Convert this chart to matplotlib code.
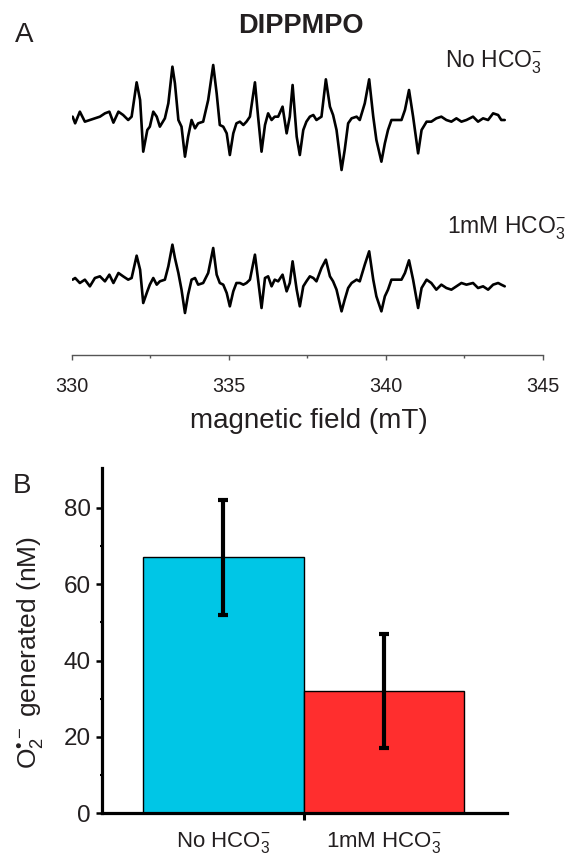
import numpy as np
import matplotlib
matplotlib.use('Agg')
import matplotlib.pyplot as plt

plt.rcParams['font.family'] = ['Liberation Sans', 'DejaVu Sans']
plt.rcParams['mathtext.fontset'] = 'custom'
plt.rcParams['mathtext.rm'] = 'Liberation Sans'
plt.rcParams['mathtext.it'] = 'Liberation Sans'
plt.rcParams['mathtext.bf'] = 'Liberation Sans:bold'

# Panel A - ESR spectra (intensity in a.u.)
campo_mT = [
    330.02, 330.10, 330.25, 330.41, 330.57, 330.73, 330.89, 331.05, 331.19, 331.32,
    331.48, 331.63, 331.79, 331.90, 332.06, 332.17, 332.27, 332.40, 332.48, 332.59,
    332.70, 332.80, 332.96, 333.07, 333.20, 333.28, 333.39, 333.49, 333.60, 333.70,
    333.81, 333.92, 334.02, 334.18, 334.34, 334.50, 334.61, 334.71, 334.82, 334.93,
    335.03, 335.14, 335.24, 335.35, 335.46, 335.56, 335.67, 335.83, 335.93, 336.04,
    336.15, 336.25, 336.36, 336.46, 336.57, 336.71, 336.84, 336.94, 337.03, 337.16,
    337.26, 337.37, 337.47, 337.58, 337.69, 337.79, 337.95, 338.09, 338.22, 338.32,
    338.43, 338.59, 338.69, 338.80, 338.91, 339.07, 339.17, 339.33, 339.47, 339.60,
    339.70, 339.86, 339.97, 340.07, 340.18, 340.34, 340.50, 340.61, 340.74, 340.87,
    341.03, 341.14, 341.30, 341.45, 341.61, 341.77, 341.93, 342.09, 342.25, 342.41,
    342.57, 342.78, 342.94, 343.10, 343.26, 343.42, 343.58, 343.68, 343.79,
]
sinal_sem_hco3 = [
    10, -10, 25, -5, 0, 5, 10, 20, 25, -8,
    25, 15, 0, 10, 113, 60, -95, -30, -20, 25,
    10, -20, 5, 50, 160, 110, 0, -20, -110, -50,
    0, -25, -10, -5, 60, 165, 80, -15, -20, -40,
    -105, -40, -10, -5, -15, -5, 10, 113, 10, -95,
    -15, 20, 0, 10, 10, 40, -40, 10, 105, -50,
    -105, -30, -5, 10, 15, 0, 10, 122, 40, 15,
    -30, -150, -90, -10, 5, 10, 0, 50, 122, 10,
    -60, -125, -70, -30, 0, 0, 0, 30, 90, 10,
    -100, -30, -5, -5, 5, 10, 0, -5, 5, -5,
    0, 10, -5, 5, 0, 20, 15, 0, 0,
]
sinal_1mm_hco3 = [
    10, 15, 0, 10, -10, 15, 20, 5, 25, 0,
    30, 20, 10, 15, 82, 40, -60, -25, -5, 15,
    -5, 5, 10, 50, 115, 75, 30, -20, -90, -35,
    10, 15, -5, 0, 30, 105, 25, 0, -5, -30,
    -70, -25, 0, 0, -5, 0, 10, 85, 10, -75,
    15, 20, -10, 10, 5, 25, -25, 0, 65, -20,
    -70, -10, 5, 20, 15, 5, 45, 70, 20, 5,
    -20, -85, -50, -15, 0, 10, 5, 55, 95, 10,
    -40, -85, -40, -20, 10, 10, 10, 30, 68, 10,
    -75, -15, 10, 0, -20, -5, -15, -20, -10, 0,
    -5, 0, -15, -10, -20, -5, 0, -5, -10,
]

# Panel B - superoxide generated (nM)
condicoes = ['No HCO$_3^{-}$', '1mM HCO$_3^{-}$']
o2_gerado = [67, 32]
o2_erro = [15, 15]
cores = ['#00c6e6', '#ff2e2e']

W, H = 573, 857
fig = plt.figure(figsize=(W / 100, H / 100), dpi=100)


def fx(px):
    return px / W


def fy(py):
    return 1 - py / H


txt = '#231f20'

# ---------------- A ----------------
ax_a = fig.add_axes([fx(72), fy(355), (542.7 - 72) / W, (355 - 40) / H])
escala = 1 / 3
for sinal, base in [(sinal_sem_hco3, 235), (sinal_1mm_hco3, 72)]:
    ax_a.plot(campo_mT, base + np.array(sinal) * escala, color='black', lw=1.9,
              solid_joinstyle='round', solid_capstyle='round')
ax_a.set_xlim(330, 345)
ax_a.set_ylim(0, 315)
for s in ['left', 'right', 'top']:
    ax_a.spines[s].set_visible(False)
ax_a.spines['bottom'].set_color('#555555')
ax_a.spines['bottom'].set_linewidth(1.0)
ax_a.set_yticks([])
ax_a.set_xticks([330, 335, 340, 345])
ax_a.set_xticks([332.5, 337.5, 342.5], minor=True)
ax_a.tick_params(axis='x', which='major', length=3.6, width=1.0, color='#555555',
                 labelsize=14.3, labelcolor=txt, pad=12)
ax_a.tick_params(axis='x', which='minor', length=2.2, width=1.0, color='#555555')
ax_a.patch.set_alpha(0)

fig.text(fx(308.5), fy(428), 'magnetic field (mT)', fontsize=20, color=txt,
         ha='center', va='baseline')
fig.text(fx(300.5), fy(33.3), 'DIPPMPO', fontsize=19.5, fontweight='bold', color=txt,
         ha='center', va='baseline')
fig.text(fx(14.6), fy(42), 'A', fontsize=20, color=txt, ha='left', va='baseline')
fig.text(fx(445), fy(67.7), 'No HCO$_3^{-}$', fontsize=16.5, color=txt,
         ha='left', va='baseline')
fig.text(fx(447), fy(234), '1mM HCO$_3^{-}$', fontsize=16.5, color=txt,
         ha='left', va='baseline')

# ---------------- B ----------------
ax_b = fig.add_axes([fx(102), fy(813.3), (507 - 102) / W, (813.3 - 468) / H])
ax_b.bar(range(len(o2_gerado)), o2_gerado, width=1.0, color=cores,
         edgecolor='black', linewidth=1.0, zorder=2,
         yerr=o2_erro,
         error_kw=dict(ecolor='black', elinewidth=3, capsize=3.6, capthick=3, zorder=3))
ax_b.set_xlim(-0.754, 1.766)
ax_b.set_ylim(0, 90.4)
for s in ['right', 'top']:
    ax_b.spines[s].set_visible(False)
for s in ['left', 'bottom']:
    ax_b.spines[s].set_linewidth(2.3)
    ax_b.spines[s].set_color('black')
    ax_b.spines[s].set_zorder(4)
ax_b.set_xticks(range(len(condicoes)), labels=condicoes)
ax_b.set_xticks([0.5], minor=True)
ax_b.tick_params(axis='x', which='major', length=0, labelsize=16, labelcolor=txt, pad=12)
ax_b.tick_params(axis='x', which='minor', length=5, width=2.2, color='black')
ax_b.set_yticks([0, 20, 40, 60, 80])
ax_b.set_yticks([10, 30, 50, 70], minor=True)
ax_b.tick_params(axis='y', which='major', length=4, width=1.8, labelsize=17.5,
                 labelcolor=txt, pad=4)
ax_b.tick_params(axis='y', which='minor', length=1.5, width=1.5)

fig.text(fx(30), fy(653), 'O$_2^{•-}$ generated (nM)', fontsize=19, color=txt,
         rotation=90, ha='center', va='center')
fig.text(fx(13), fy(493), 'B', fontsize=20, color=txt, ha='left', va='baseline')

fig.savefig('out.png', dpi=100)
